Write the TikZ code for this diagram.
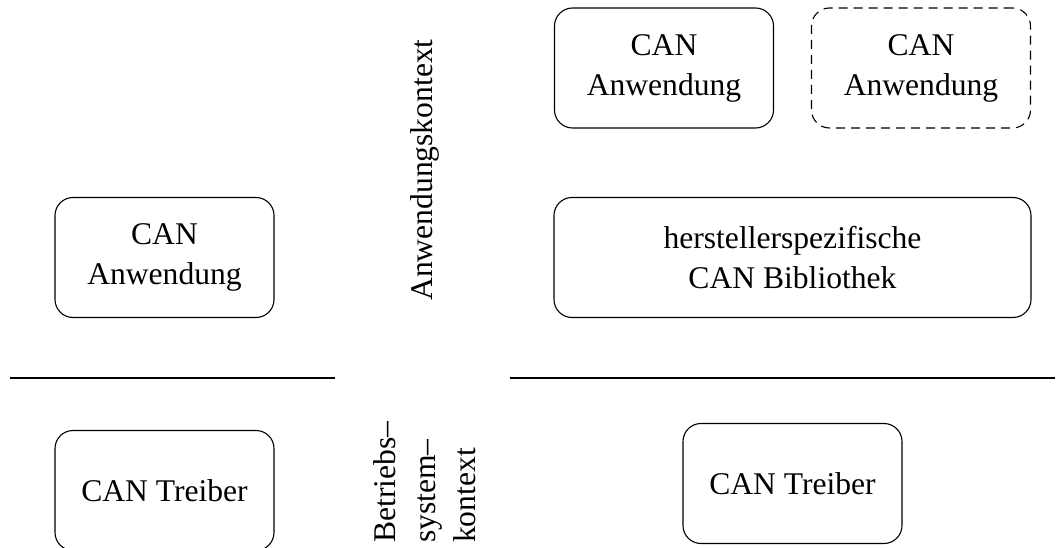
\documentclass[tikz,border=0pt]{standalone}
\usepackage{fontspec}
\setmainfont{Liberation Serif}
\begin{document}
\begin{tikzpicture}[x=1pt,y=-1pt,
  font=\fontsize{31.6}{40}\selectfont,
  box/.style={draw,line width=1.1pt,rounded corners=18pt,align=center,
    minimum width=219pt,minimum height=120pt,inner sep=0pt},
  widebox/.style={box,minimum width=477pt},
  optbox/.style={box,dashed,dash pattern=on 9pt off 6pt},
  sep/.style={line width=1.1pt},
  ctx/.style={rotate=90,inner sep=0pt,align=left}]
\useasboundingbox (0,0) rectangle (1057,548);
\clip (0,0) rectangle (1057,548);

% left column: application and driver
\node[box] (appL) at (164.5,257.5) {CAN\\Anwendung};
\node[box] (drvL) at (164.5,490.5) {CAN Treiber};

% right column: applications, vendor library, driver
\node[box] (appR) at (664,68) {CAN\\Anwendung};
\node[optbox] (appR2) at (921,68) {CAN\\Anwendung};
\node[widebox] (lib) at (792.5,257.5) {herstellerspezifische\\CAN Bibliothek};
\node[box] (drvR) at (792.5,483.5) {CAN Treiber};

% boundary between application and operating system context
\coordinate (sL1) at (10,378);
\coordinate (sL2) at (335,378);
\coordinate (sR1) at (510,378);
\coordinate (sR2) at (1055,378);
\draw[sep] (sL1) -- (sL2);
\draw[sep] (sR1) -- (sR2);

% context labels
\node[ctx] (ctxApp) at (425,170) {Anwendungskontext};
\node[ctx,anchor=west] (ctxOS) at (425,543) {Betriebs--\\system--\\kontext};
\end{tikzpicture}
\end{document}
